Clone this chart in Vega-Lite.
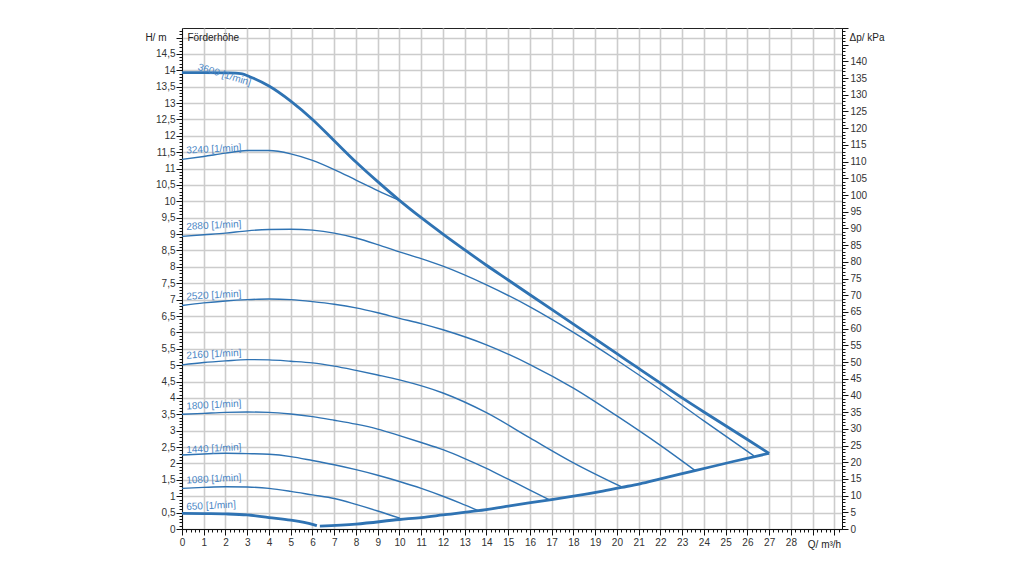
{
  "$schema": "https://vega.github.io/schema/vega-lite/v6.json",
  "width": 660,
  "height": 501,
  "autosize": {"type": "none"},
  "padding": {"left": 182, "top": 28, "right": 182, "bottom": 47},
  "background": "white",
  "config": {
    "view": {"stroke": "#222222", "strokeWidth": 1},
    "font": "Liberation Sans",
    "axis": {
      "labelFont": "Liberation Sans",
      "labelFontSize": 10,
      "labelColor": "#333333",
      "titleFont": "Liberation Sans",
      "titleFontSize": 10,
      "titleFontWeight": "normal",
      "titleColor": "#222222",
      "domainColor": "#111111",
      "tickColor": "#111111",
      "labelOverlap": false,
      "labelFlush": false
    }
  },
  "datasets": {
    "curves": [
      {"c": "3600", "q": 0, "h": 13.93}, {"c": "3600", "q": 1, "h": 13.93}, {"c": "3600", "q": 2, "h": 13.92}, {"c": "3600", "q": 2.7, "h": 13.9}, {"c": "3600", "q": 3.2, "h": 13.78}, {"c": "3600", "q": 4, "h": 13.52}, {"c": "3600", "q": 5, "h": 13.06}, {"c": "3600", "q": 6, "h": 12.5}, {"c": "3600", "q": 7, "h": 11.85}, {"c": "3600", "q": 8, "h": 11.2}, {"c": "3600", "q": 9, "h": 10.6}, {"c": "3600", "q": 10, "h": 10.03}, {"c": "3600", "q": 11, "h": 9.5}, {"c": "3600", "q": 12, "h": 9.0}, {"c": "3600", "q": 13, "h": 8.52}, {"c": "3600", "q": 14, "h": 8.05}, {"c": "3600", "q": 15, "h": 7.6}, {"c": "3600", "q": 16, "h": 7.15}, {"c": "3600", "q": 17, "h": 6.7}, {"c": "3600", "q": 18, "h": 6.25}, {"c": "3600", "q": 19, "h": 5.8}, {"c": "3600", "q": 20, "h": 5.35}, {"c": "3600", "q": 21, "h": 4.9}, {"c": "3600", "q": 22, "h": 4.45}, {"c": "3600", "q": 23, "h": 4.0}, {"c": "3600", "q": 24, "h": 3.57}, {"c": "3600", "q": 25, "h": 3.15}, {"c": "3600", "q": 26, "h": 2.73}, {"c": "3600", "q": 27, "h": 2.31},
      {"c": "3240", "q": 0, "h": 11.28}, {"c": "3240", "q": 1, "h": 11.37}, {"c": "3240", "q": 2, "h": 11.47}, {"c": "3240", "q": 3, "h": 11.55}, {"c": "3240", "q": 4, "h": 11.55}, {"c": "3240", "q": 5, "h": 11.45}, {"c": "3240", "q": 6, "h": 11.25}, {"c": "3240", "q": 7, "h": 10.97}, {"c": "3240", "q": 8, "h": 10.65}, {"c": "3240", "q": 9, "h": 10.33}, {"c": "3240", "q": 10, "h": 10.03},
      {"c": "2880", "q": 0, "h": 8.93}, {"c": "2880", "q": 1, "h": 8.98}, {"c": "2880", "q": 2, "h": 9.03}, {"c": "2880", "q": 3, "h": 9.1}, {"c": "2880", "q": 4, "h": 9.14}, {"c": "2880", "q": 5, "h": 9.15}, {"c": "2880", "q": 6, "h": 9.12}, {"c": "2880", "q": 7, "h": 9.03}, {"c": "2880", "q": 8, "h": 8.88}, {"c": "2880", "q": 9, "h": 8.68}, {"c": "2880", "q": 10, "h": 8.46}, {"c": "2880", "q": 11, "h": 8.25}, {"c": "2880", "q": 12, "h": 8.02}, {"c": "2880", "q": 14, "h": 7.45}, {"c": "2880", "q": 16, "h": 6.78}, {"c": "2880", "q": 18, "h": 6.0}, {"c": "2880", "q": 20, "h": 5.15}, {"c": "2880", "q": 22, "h": 4.25}, {"c": "2880", "q": 24, "h": 3.3}, {"c": "2880", "q": 26.3, "h": 2.23},
      {"c": "2520", "q": 0, "h": 6.82}, {"c": "2520", "q": 1, "h": 6.9}, {"c": "2520", "q": 2, "h": 6.96}, {"c": "2520", "q": 3, "h": 7.0}, {"c": "2520", "q": 4, "h": 7.02}, {"c": "2520", "q": 5, "h": 7.0}, {"c": "2520", "q": 6, "h": 6.94}, {"c": "2520", "q": 7, "h": 6.86}, {"c": "2520", "q": 8, "h": 6.75}, {"c": "2520", "q": 9, "h": 6.6}, {"c": "2520", "q": 10, "h": 6.43}, {"c": "2520", "q": 11, "h": 6.27}, {"c": "2520", "q": 12, "h": 6.08}, {"c": "2520", "q": 14, "h": 5.62}, {"c": "2520", "q": 16, "h": 5.02}, {"c": "2520", "q": 18, "h": 4.3}, {"c": "2520", "q": 20, "h": 3.45}, {"c": "2520", "q": 22, "h": 2.55}, {"c": "2520", "q": 23.6, "h": 1.78},
      {"c": "2160", "q": 0, "h": 5.01}, {"c": "2160", "q": 1, "h": 5.08}, {"c": "2160", "q": 2, "h": 5.13}, {"c": "2160", "q": 3, "h": 5.17}, {"c": "2160", "q": 4, "h": 5.16}, {"c": "2160", "q": 5, "h": 5.12}, {"c": "2160", "q": 6, "h": 5.07}, {"c": "2160", "q": 7, "h": 4.97}, {"c": "2160", "q": 8, "h": 4.84}, {"c": "2160", "q": 9, "h": 4.7}, {"c": "2160", "q": 10, "h": 4.55}, {"c": "2160", "q": 12, "h": 4.15}, {"c": "2160", "q": 14, "h": 3.55}, {"c": "2160", "q": 16, "h": 2.78}, {"c": "2160", "q": 18, "h": 2.02}, {"c": "2160", "q": 20.2, "h": 1.29},
      {"c": "1800", "q": 0, "h": 3.5}, {"c": "1800", "q": 1, "h": 3.53}, {"c": "1800", "q": 2, "h": 3.56}, {"c": "1800", "q": 3, "h": 3.57}, {"c": "1800", "q": 4, "h": 3.56}, {"c": "1800", "q": 5, "h": 3.51}, {"c": "1800", "q": 6, "h": 3.43}, {"c": "1800", "q": 7, "h": 3.32}, {"c": "1800", "q": 8, "h": 3.2}, {"c": "1800", "q": 9, "h": 3.05}, {"c": "1800", "q": 10, "h": 2.85}, {"c": "1800", "q": 11, "h": 2.64}, {"c": "1800", "q": 12, "h": 2.42}, {"c": "1800", "q": 13, "h": 2.15}, {"c": "1800", "q": 14, "h": 1.85}, {"c": "1800", "q": 15, "h": 1.52}, {"c": "1800", "q": 16, "h": 1.19}, {"c": "1800", "q": 16.9, "h": 0.89},
      {"c": "1440", "q": 0, "h": 2.26}, {"c": "1440", "q": 1, "h": 2.29}, {"c": "1440", "q": 2, "h": 2.31}, {"c": "1440", "q": 3, "h": 2.3}, {"c": "1440", "q": 4, "h": 2.28}, {"c": "1440", "q": 5, "h": 2.21}, {"c": "1440", "q": 6, "h": 2.09}, {"c": "1440", "q": 7, "h": 1.96}, {"c": "1440", "q": 8, "h": 1.81}, {"c": "1440", "q": 9, "h": 1.64}, {"c": "1440", "q": 10, "h": 1.45}, {"c": "1440", "q": 11, "h": 1.24}, {"c": "1440", "q": 12, "h": 1.0}, {"c": "1440", "q": 12.8, "h": 0.79}, {"c": "1440", "q": 13.62, "h": 0.56},
      {"c": "1080", "q": 0, "h": 1.24}, {"c": "1080", "q": 1, "h": 1.27}, {"c": "1080", "q": 2, "h": 1.29}, {"c": "1080", "q": 3, "h": 1.28}, {"c": "1080", "q": 4, "h": 1.24}, {"c": "1080", "q": 5, "h": 1.15}, {"c": "1080", "q": 6, "h": 1.04}, {"c": "1080", "q": 7, "h": 0.93}, {"c": "1080", "q": 8, "h": 0.75}, {"c": "1080", "q": 9, "h": 0.55}, {"c": "1080", "q": 10.02, "h": 0.33},
      {"c": "650", "q": 0, "h": 0.48}, {"c": "650", "q": 1, "h": 0.47}, {"c": "650", "q": 2, "h": 0.46}, {"c": "650", "q": 3, "h": 0.43}, {"c": "650", "q": 4, "h": 0.35}, {"c": "650", "q": 5, "h": 0.27}, {"c": "650", "q": 6, "h": 0.14}, {"c": "650", "q": 6.2, "h": 0.1},
      {"c": "sys", "q": 6.34, "h": 0.09}, {"c": "sys", "q": 8, "h": 0.15}, {"c": "sys", "q": 10, "h": 0.29}, {"c": "sys", "q": 11, "h": 0.35}, {"c": "sys", "q": 12, "h": 0.43}, {"c": "sys", "q": 13.62, "h": 0.56}, {"c": "sys", "q": 15, "h": 0.7}, {"c": "sys", "q": 16.92, "h": 0.89}, {"c": "sys", "q": 18, "h": 1.0}, {"c": "sys", "q": 19.22, "h": 1.14}, {"c": "sys", "q": 20.22, "h": 1.27}, {"c": "sys", "q": 21.06, "h": 1.38}, {"c": "sys", "q": 22, "h": 1.53}, {"c": "sys", "q": 23.59, "h": 1.78}, {"c": "sys", "q": 25.35, "h": 2.06}, {"c": "sys", "q": 27, "h": 2.31}
    ],
    "labels": [
      {"t": "3600 [1/min]", "q": 1.95, "h": 13.86},
      {"t": "3240 [1/min]", "q": 0.2, "h": 11.55},
      {"t": "2880 [1/min]", "q": 0.2, "h": 9.22},
      {"t": "2520 [1/min]", "q": 0.2, "h": 7.09},
      {"t": "2160 [1/min]", "q": 0.2, "h": 5.29},
      {"t": "1800 [1/min]", "q": 0.2, "h": 3.74},
      {"t": "1440 [1/min]", "q": 0.2, "h": 2.41},
      {"t": "1080 [1/min]", "q": 0.2, "h": 1.48},
      {"t": "650 [1/min]", "q": 0.2, "h": 0.67}
    ],
    "note": [{"t": "Förderhöhe", "q": 0.25, "h": 14.97}],
    "dprange": [{"dp": 0}, {"dp": 150}]
  },
  "layer": [
    {
      "encoding": {
        "x": {
          "field": "q", "type": "quantitative",
          "scale": {"domain": [0, 30.35], "nice": false, "zero": false},
          "axis": {
            "orient": "bottom",
            "values": [0,0.2,0.4,0.6,0.8,1,1.2,1.4,1.6,1.8,2,2.2,2.4,2.6,2.8,3,3.2,3.4,3.6,3.8,4,4.2,4.4,4.6,4.8,5,5.2,5.4,5.6,5.8,6,6.2,6.4,6.6,6.8,7,7.2,7.4,7.6,7.8,8,8.2,8.4,8.6,8.8,9,9.2,9.4,9.6,9.8,10,10.2,10.4,10.6,10.8,11,11.2,11.4,11.6,11.8,12,12.2,12.4,12.6,12.8,13,13.2,13.4,13.6,13.8,14,14.2,14.4,14.6,14.8,15,15.2,15.4,15.6,15.8,16,16.2,16.4,16.6,16.8,17,17.2,17.4,17.6,17.8,18,18.2,18.4,18.6,18.8,19,19.2,19.4,19.6,19.8,20,20.2,20.4,20.6,20.8,21,21.2,21.4,21.6,21.8,22,22.2,22.4,22.6,22.8,23,23.2,23.4,23.6,23.8,24,24.2,24.4,24.6,24.8,25,25.2,25.4,25.6,25.8,26,26.2,26.4,26.6,26.8,27,27.2,27.4,27.6,27.8,28,28.2,28.4,28.6,28.8,29,29.2,29.4,29.6,29.8,30,30.2],
            "labelExpr": "abs(datum.value - round(datum.value)) < 0.001 && datum.value < 28.5 ? format(datum.value, 'd') : ''",
            "labelPadding": 2,
            "tickSize": {"condition": {"test": "abs(datum.value - round(datum.value)) < 0.001", "value": 6}, "value": 3},
            "grid": true,
            "gridColor": "#cccccc",
            "gridWidth": 1.6,
            "gridOpacity": {"condition": {"test": "abs(datum.value - round(datum.value)) < 0.001", "value": 1}, "value": 0},
            "title": "Q/ m³/h",
            "titleAngle": 0,
            "titleX": 642,
            "titleY": 15,
            "titleAlign": "center",
            "titleBaseline": "middle"
          }
        },
        "y": {
          "field": "h", "type": "quantitative",
          "scale": {"domain": [0, 15.29], "nice": false, "zero": false},
          "axis": {
            "orient": "left",
            "values": [0,0.1,0.2,0.3,0.4,0.5,0.6,0.7,0.8,0.9,1,1.1,1.2,1.3,1.4,1.5,1.6,1.7,1.8,1.9,2,2.1,2.2,2.3,2.4,2.5,2.6,2.7,2.8,2.9,3,3.1,3.2,3.3,3.4,3.5,3.6,3.7,3.8,3.9,4,4.1,4.2,4.3,4.4,4.5,4.6,4.7,4.8,4.9,5,5.1,5.2,5.3,5.4,5.5,5.6,5.7,5.8,5.9,6,6.1,6.2,6.3,6.4,6.5,6.6,6.7,6.8,6.9,7,7.1,7.2,7.3,7.4,7.5,7.6,7.7,7.8,7.9,8,8.1,8.2,8.3,8.4,8.5,8.6,8.7,8.8,8.9,9,9.1,9.2,9.3,9.4,9.5,9.6,9.7,9.8,9.9,10,10.1,10.2,10.3,10.4,10.5,10.6,10.7,10.8,10.9,11,11.1,11.2,11.3,11.4,11.5,11.6,11.7,11.8,11.9,12,12.1,12.2,12.3,12.4,12.5,12.6,12.7,12.8,12.9,13,13.1,13.2,13.3,13.4,13.5,13.6,13.7,13.8,13.9,14,14.1,14.2,14.3,14.4,14.5,14.6,14.7,14.8,14.9,15,15.1,15.2],
            "labelExpr": "abs(datum.value*2 - round(datum.value*2)) < 0.001 && datum.value < 14.9 ? replace(format(datum.value, '.1~f'), '.', ',') : ''",
            "labelPadding": 1,
            "tickSize": {"condition": {"test": "abs(datum.value*2 - round(datum.value*2)) < 0.001", "value": 6}, "value": 3},
            "grid": true,
            "gridColor": "#cccccc",
            "gridWidth": 1.6,
            "gridOpacity": {"condition": {"test": "abs(datum.value*2 - round(datum.value*2)) < 0.001", "value": 1}, "value": 0},
            "title": "H/ m",
            "titleAngle": 0,
            "titleX": -16,
            "titleY": 9,
            "titleAlign": "right",
            "titleBaseline": "middle"
          }
        }
      },
      "layer": [
        {
          "data": {"name": "curves"},
          "transform": [{"filter": {"field": "c", "oneOf": ["3240", "2880", "2520", "2160", "1800", "1440", "1080"]}}],
          "mark": {"type": "line", "color": "#2f73b3", "strokeWidth": 1.4, "interpolate": "monotone"},
          "encoding": {"detail": {"field": "c", "type": "nominal"}}
        },
        {
          "data": {"name": "curves"},
          "transform": [{"filter": {"field": "c", "oneOf": ["3600", "650", "sys"]}}],
          "mark": {"type": "line", "color": "#2f73b3", "strokeWidth": 2.8, "interpolate": "monotone"},
          "encoding": {"detail": {"field": "c", "type": "nominal"}}
        },
        {
          "data": {"name": "labels"},
          "transform": [{"filter": "datum.t !== '3600 [1/min]'"}],
          "mark": {"type": "text", "align": "left", "baseline": "middle", "angle": 357, "fontSize": 10, "font": "Liberation Sans", "color": "#4a86c5"},
          "encoding": {"text": {"field": "t", "type": "nominal"}}
        },
        {
          "data": {"name": "labels"},
          "transform": [{"filter": "datum.t === '3600 [1/min]'"}],
          "mark": {"type": "text", "align": "center", "baseline": "middle", "angle": 17, "fontSize": 10, "font": "Liberation Sans", "color": "#4a86c5"},
          "encoding": {"text": {"field": "t", "type": "nominal"}}
        },
        {
          "data": {"name": "note"},
          "mark": {"type": "text", "align": "left", "baseline": "middle", "fontSize": 10, "font": "Liberation Sans", "color": "#222222"},
          "encoding": {"text": {"field": "t", "type": "nominal"}}
        }
      ]
    },
    {
      "data": {"name": "dprange"},
      "mark": {"type": "point", "opacity": 0},
      "encoding": {
        "y": {
          "field": "dp", "type": "quantitative",
          "scale": {"domain": [0, 150], "nice": false, "zero": false},
          "axis": {
            "orient": "right",
            "values": [0,1,2,3,4,5,6,7,8,9,10,11,12,13,14,15,16,17,18,19,20,21,22,23,24,25,26,27,28,29,30,31,32,33,34,35,36,37,38,39,40,41,42,43,44,45,46,47,48,49,50,51,52,53,54,55,56,57,58,59,60,61,62,63,64,65,66,67,68,69,70,71,72,73,74,75,76,77,78,79,80,81,82,83,84,85,86,87,88,89,90,91,92,93,94,95,96,97,98,99,100,101,102,103,104,105,106,107,108,109,110,111,112,113,114,115,116,117,118,119,120,121,122,123,124,125,126,127,128,129,130,131,132,133,134,135,136,137,138,139,140,141,142,143,144,145,146,147,148,149,150],
            "labelExpr": "datum.value % 5 === 0 && datum.value <= 140 ? format(datum.value, 'd') : ''",
            "labelPadding": 2,
            "tickSize": {"condition": {"test": "datum.value % 5 === 0", "value": 6}, "value": 3},
            "grid": false,
            "title": "Δp/ kPa",
            "titleAngle": 0,
            "titleX": 7,
            "titleY": 9,
            "titleAlign": "left",
            "titleBaseline": "middle"
          }
        }
      }
    }
  ],
  "resolve": {"scale": {"y": "independent"}, "axis": {"y": "independent"}}
}
